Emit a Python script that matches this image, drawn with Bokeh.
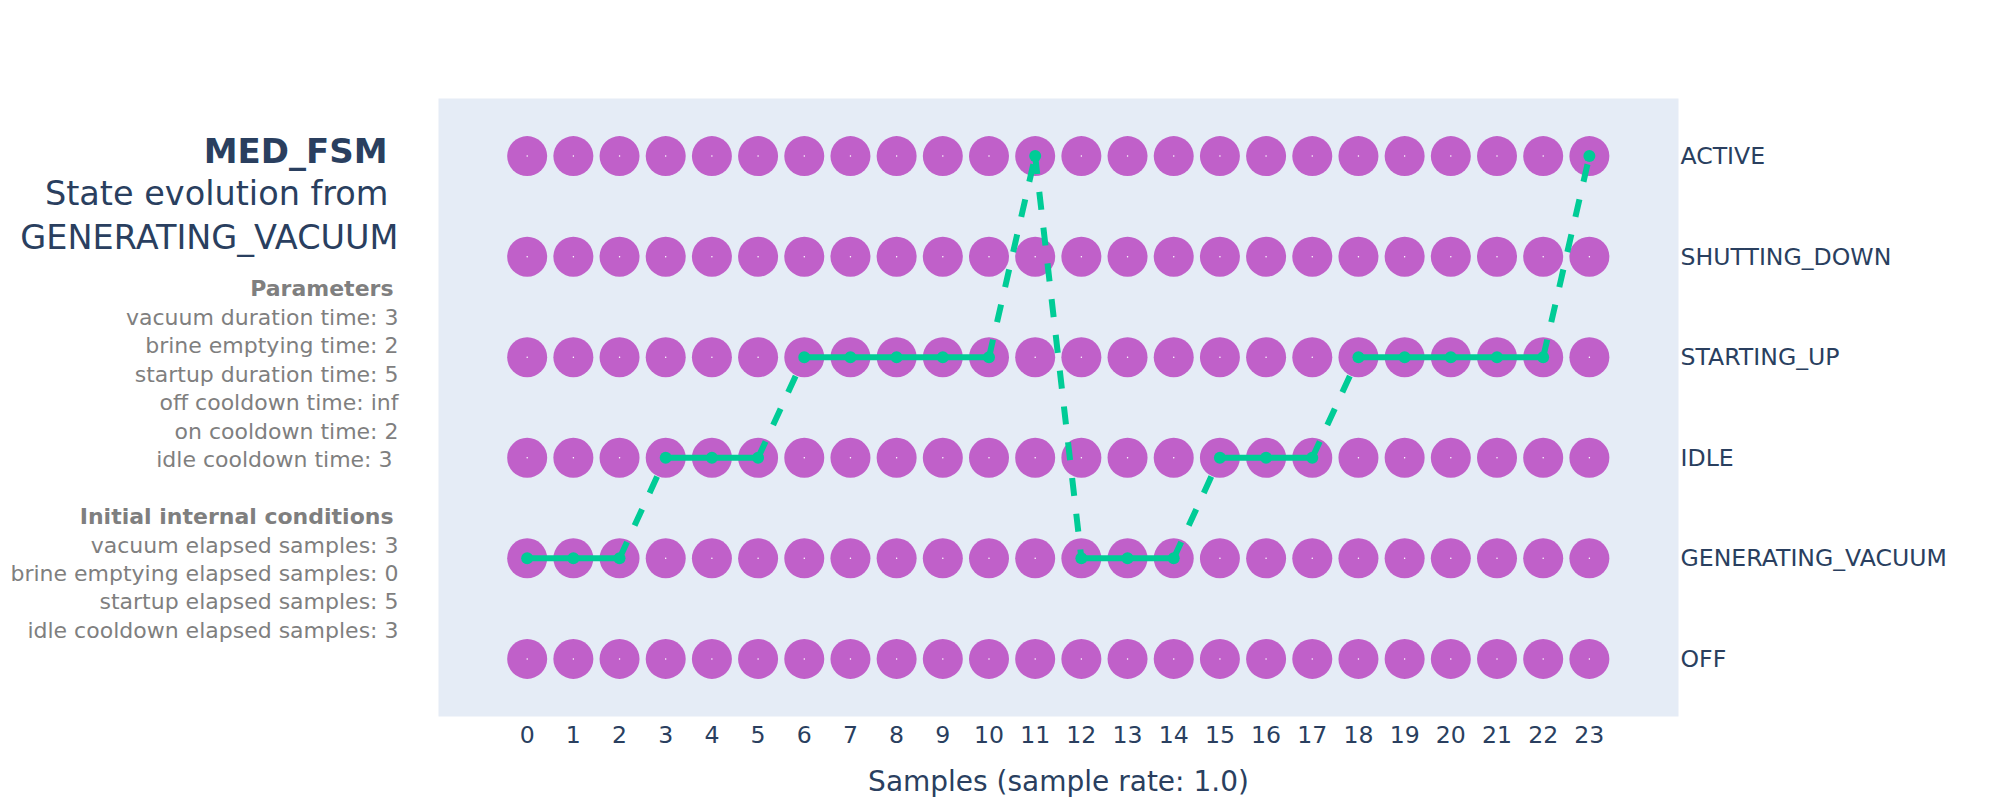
from bokeh.plotting import figure
from bokeh.layouts import row
from bokeh.models import ColumnDataSource, Range1d, FixedTicker
from bokeh.core.properties import value
from bokeh.embed import file_html
from bokeh.resources import INLINE

# ---- data ----
samples = list(range(24))
states = ["OFF", "GENERATING_VACUUM", "IDLE", "STARTING_UP", "SHUTTING_DOWN", "ACTIVE"]
path_states = (["GENERATING_VACUUM"] * 3 + ["IDLE"] * 3 + ["STARTING_UP"] * 5 + ["ACTIVE"]
               + ["GENERATING_VACUUM"] * 3 + ["IDLE"] * 3 + ["STARTING_UP"] * 5 + ["ACTIVE"])

title_lines = ["MED_FSM", "State evolution from", "GENERATING_VACUUM"]
param_header = "Parameters"
param_lines = ["vacuum duration time: 3", "brine emptying time: 2", "startup duration time: 5",
               "off cooldown time: inf", "on cooldown time: 2", "idle cooldown time: 3"]
cond_header = "Initial internal conditions"
cond_lines = ["vacuum elapsed samples: 3", "brine emptying elapsed samples: 0",
              "startup elapsed samples: 5", "idle cooldown elapsed samples: 3"]

# ---- styling ----
FONT = "DejaVu Sans"
TXT = "#2a3f5f"
GRAY = "#7f7f7f"
PURPLE = "#c060c9"
GREEN = "#00cc96"
BG = "#e5ecf6"

LEFT_W = 438
TOP, BOTTOM = 98, 82
FRAME_TOP, FRAME_BOTTOM = TOP, 800 - BOTTOM

idx = {s: i for i, s in enumerate(states)}
grid_x = [x for y in range(len(states)) for x in samples]
grid_y = [y for y in range(len(states)) for x in samples]
path_y = [idx[s] for s in path_states]

solid = dict(x0=[], y0=[], x1=[], y1=[])
dashed = dict(x0=[], y0=[], x1=[], y1=[])
for i in range(len(samples) - 1):
    d = solid if path_y[i] == path_y[i + 1] else dashed
    d["x0"].append(samples[i]); d["y0"].append(path_y[i])
    d["x1"].append(samples[i + 1]); d["y1"].append(path_y[i + 1])

# ---- left text panel (canvas pixel coordinates, y downwards) ----
side = figure(width=LEFT_W, height=800, output_backend="svg", toolbar_location=None,
              title=None, x_axis_location=None, y_axis_location=None,
              x_range=Range1d(0, LEFT_W), y_range=Range1d(FRAME_BOTTOM, FRAME_TOP),
              min_border_left=0, min_border_right=0, min_border_top=TOP, min_border_bottom=BOTTOM)
side.grid.grid_line_color = None
side.outline_line_color = None
side.background_fill_color = "white"
side.border_fill_color = "white"

def add(text, rx, by, size, color, style="normal"):
    side.text(x=[rx], y=[by], text=[text], text_align="right", text_baseline="alphabetic",
              text_font=value(FONT), text_font_size=size, text_color=color,
              text_font_style=style)

add(title_lines[0], 387, 150.5, "34px", TXT, "bold")
add(title_lines[1], 388, 193.5, "33.5px", TXT)
add(title_lines[2], 398, 237.8, "33.5px", TXT)

step = 28.55
y0 = 289.0
add(param_header, 393, y0, "22px", GRAY, "bold")
for k, t in enumerate(param_lines):
    rx = 392 if k == len(param_lines) - 1 else 398
    add(t, rx, y0 + step * (k + 1), "22px", GRAY)
yc = y0 + step * (len(param_lines) + 2)
add(cond_header, 393, yc, "22px", GRAY, "bold")
for k, t in enumerate(cond_lines):
    add(t, 398, yc + step * (k + 1), "22px", GRAY)

# ---- main chart ----
p = figure(width=2000 - LEFT_W, height=800, output_backend="svg", toolbar_location=None,
           title=None,
           x_range=Range1d(-1.92, 24.93), y_range=Range1d(-0.573, 5.573),
           y_axis_location="right",
           min_border_left=0, min_border_right=322, min_border_top=TOP, min_border_bottom=BOTTOM)
p.background_fill_color = BG
p.border_fill_color = "white"
p.outline_line_color = None
p.grid.grid_line_color = None

p.scatter(grid_x, grid_y, size=40, color=PURPLE, line_color=None)
p.scatter(grid_x, grid_y, size=1.5, color="white", line_color=None)
p.segment("x0", "y0", "x1", "y1", source=ColumnDataSource(solid), line_color=GREEN, line_width=6)
p.segment("x0", "y0", "x1", "y1", source=ColumnDataSource(dashed), line_color=GREEN, line_width=6,
          line_dash="18 18")
p.scatter(samples, path_y, size=12, color=GREEN, line_color=None)

xa = p.xaxis[0]
xa.ticker = FixedTicker(ticks=samples)
xa.axis_line_color = None
xa.major_tick_line_color = None
xa.minor_tick_line_color = None
xa.major_label_standoff = 3
xa.major_label_text_font = FONT
xa.major_label_text_font_size = "23.6px"
xa.major_label_text_color = TXT
xa.axis_label = "Samples (sample rate: 1.0)"
xa.axis_label_text_font = FONT
xa.axis_label_text_font_size = "28px"
xa.axis_label_text_font_style = "normal"
xa.axis_label_text_color = TXT
xa.axis_label_standoff = 19

ya = p.yaxis[0]
ya.ticker = FixedTicker(ticks=list(range(len(states))))
ya.major_label_overrides = {i: s for i, s in enumerate(states)}
ya.axis_line_color = None
ya.major_tick_line_color = None
ya.minor_tick_line_color = None
ya.major_label_standoff = -4
ya.major_label_text_font = FONT
ya.major_label_text_font_size = "23.6px"
ya.major_label_text_color = TXT

layout = row(side, p, spacing=0)
open("out.html", "w").write(file_html(layout, INLINE))
